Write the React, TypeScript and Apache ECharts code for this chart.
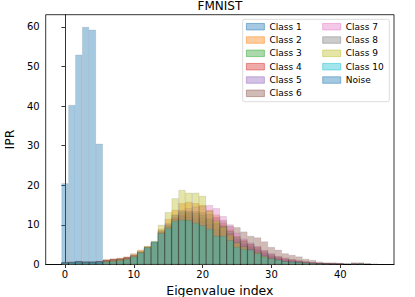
import React, { useEffect, useRef } from "react";
import * as echarts from "echarts";

// ---------- data (bins centred on integer eigenvalue indices 0..45) ----------
const seriesNames = ["Class 1", "Class 2", "Class 3", "Class 4", "Class 5", "Class 6", "Class 7", "Class 8", "Class 9", "Class 10", "Noise"];
const xTicks = [0, 10, 20, 30, 40];
const yTicks = [0, 10, 20, 30, 40, 50, 60];

const class1 = [0.4,0.5,0.7,0.6,0.6,0.7,0.8,1.0,1.2,1.5,2.1,3.1,4.3,5.7,8.3,9.8,11.8,12.3,12.1,11.6,11.0,10.2,8.8,8.4,7.0,5.4,4.6,4.2,3.3,2.4,1.8,1.4,1.0,0.8,0.7,0.5,0.4,0.3,0.2,0.2,0.1,0.1,0.1,0.2,0.1,0];
const class2 = [0.6,0.7,0.8,0.7,0.7,0.8,1.3,1.5,1.7,2.0,2.8,3.7,4.6,5.7,9.0,11.5,13.8,15.5,15.8,15.5,15.0,13.8,12.6,10.5,8.8,7.2,6.2,5.2,4.5,3.5,2.6,2.0,1.6,1.3,1.0,0.7,0.5,0.3,0.3,0.2,0.2,0.1,0.1,0.1,0.1,0];
const class3 = [0.3,0.4,0.5,0.4,0.4,0.5,0.6,0.7,0.8,1.1,1.8,2.8,4.1,5.5,7.6,8.7,10.6,10.8,10.8,10.1,9.5,8.6,6.8,6.9,5.8,4.1,3.7,3.5,2.6,1.8,1.3,1.1,0.7,0.6,0.5,0.4,0.3,0.2,0.1,0.1,0.1,0,0.1,0.1,0,0];
const class4 = [0.5,0.6,0.8,0.7,0.7,0.8,1.2,1.4,1.5,1.8,2.3,3.1,4.3,5.6,8.1,9.6,11.6,12.6,12.9,12.4,11.9,11.4,10.2,9.5,8.0,6.5,5.4,4.8,3.9,3.0,2.2,1.7,1.2,1.0,0.8,0.6,0.4,0.3,0.2,0.2,0.2,0.1,0.1,0.1,0.1,0];
const class5 = [0.4,0.5,0.6,0.5,0.5,0.6,0.8,0.9,1.1,1.4,2.1,3.0,4.2,5.6,8.0,9.5,11.4,12.0,12.0,11.5,11.0,10.2,9.0,8.6,7.3,5.8,5.0,4.4,3.6,2.7,2.0,1.5,1.1,0.9,0.7,0.5,0.4,0.3,0.2,0.2,0.1,0.1,0.2,0.1,0.1,0];
const class6 = [0.6,0.7,0.9,0.8,0.8,0.9,1.1,1.3,1.5,1.8,2.4,3.2,4.3,5.4,8.2,10.0,12.0,13.2,13.6,13.5,13.2,12.8,12.0,11.2,9.8,9.4,8.3,7.2,6.8,5.8,4.4,3.7,2.8,2.4,2.0,1.4,1.1,0.7,0.5,0.5,0.4,0.2,0.5,0.5,0.2,0.2];
const class7 = [0.5,0.6,0.8,0.7,0.7,0.8,1.0,1.2,1.4,1.7,2.5,3.3,4.4,5.6,8.5,10.5,12.5,13.8,14.2,14.6,14.8,15.0,14.2,12.2,10.1,8.0,6.5,5.5,4.6,3.6,2.8,2.1,1.7,1.3,1.0,0.8,0.6,0.4,0.3,0.3,0.2,0.1,0.2,0.1,0.1,0];
const class8 = [0.5,0.6,0.7,0.6,0.6,0.7,0.9,1.1,1.3,1.6,2.2,3.2,4.4,5.7,8.6,10.2,12.6,13.5,13.3,13.0,12.5,11.6,10.5,9.8,8.4,7.0,6.0,5.2,4.3,3.3,2.5,1.9,1.4,1.1,0.9,0.7,0.5,0.3,0.3,0.2,0.2,0.1,0.2,0.2,0.1,0];
const class9 = [0.5,0.6,0.7,0.6,0.6,0.7,0.9,1.1,1.3,1.6,2.4,3.5,4.7,5.9,10.0,13.2,16.7,18.8,18.1,18.1,17.3,13.5,11.0,9.5,7.5,5.5,4.5,3.8,3.0,2.2,1.6,1.2,0.8,0.6,0.5,0.4,0.3,0.2,0.1,0.1,0.1,0,0,0,0,0];
const class10 = [0.4,0.5,0.6,0.5,0.5,0.6,0.7,0.8,1.0,1.3,2.0,3.0,4.3,5.8,7.9,9.2,11.0,11.3,11.2,10.5,9.9,9.0,7.2,7.2,6.1,4.4,3.9,3.7,2.8,2.0,1.5,1.2,0.8,0.7,0.6,0.4,0.3,0.2,0.2,0.1,0.1,0.1,0.1,0.2,0.1,0];
const noise = [20.5,40.3,53.0,60.0,59.3,30.5];

const seriesValues = [class1, class2, class3, class4, class5, class6, class7, class8, class9, class10, noise];
const colors = ["#1f77b4", "#ff7f0e", "#2ca02c", "#d62728", "#9467bd", "#8c564b", "#e377c2", "#7f7f7f", "#bcbd22", "#17becf", "#1f77b4"];

const W = 415;
const H = 297;
const FONT = "DejaVu Sans";
const X_MIN = -2.8;
const X_MAX = 47.8;
const Y_MIN = 0;
const Y_MAX = 63.1;
const GRID = { left: 45.7, right: 21, top: 14.7, bottom: 32.5 };

function rgba(hex: string, a: number) {
  const n = parseInt(hex.slice(1), 16);
  return `rgba(${(n >> 16) & 255},${(n >> 8) & 255},${n & 255},${a})`;
}

export default function App() {
  const ref = useRef<HTMLDivElement>(null);
  useEffect(() => {
    if (!ref.current) return;
    const chart = echarts.init(ref.current, undefined, { renderer: "svg" });
    const plotW = W - GRID.left - GRID.right;
    const barW = plotW / (X_MAX - X_MIN);
    const legendText = { fontSize: 9, lineHeight: 12, fontFamily: FONT, color: "#000" };
    const legendCommon = {
      orient: "vertical" as const,
      top: 20.7,
      padding: 0,
      itemWidth: 18,
      itemHeight: 6.5,
      itemGap: 1.33,
      icon: "rect",
      textStyle: legendText,
      selectedMode: false,
      z: 10,
    };
    const legendItem = (name: string) => {
      const i = seriesNames.indexOf(name);
      return {
        name,
        itemStyle: { color: rgba(colors[i], 0.4), borderColor: rgba(colors[i], 0.6), borderWidth: 0.8 },
      };
    };
    chart.setOption({
      animation: false,
      title: {
        text: "FMNIST",
        left: GRID.left + plotW / 2,
        textAlign: "center",
        top: 0,
        padding: 0,
        textStyle: { fontSize: 12, fontWeight: "normal", fontFamily: FONT, color: "#000" },
      },
      grid: { ...GRID, outerBoundsMode: "none", containLabel: false, show: true, borderColor: "#000", borderWidth: 0.8, backgroundColor: "transparent" },
      legend: [
        { ...legendCommon, left: 246, data: seriesNames.slice(0, 6).map(legendItem) },
        { ...legendCommon, left: 322.3, data: seriesNames.slice(6).map(legendItem) },
      ],
      graphic: [
        {
          type: "rect",
          z: 5,
          shape: { x: 242.7, y: 19.3, width: 146.6, height: 82.4, r: 2 },
          style: { fill: "rgba(255,255,255,0.8)", stroke: "#dcdcdc", lineWidth: 1 },
        },
      ],
      xAxis: {
        type: "value",
        min: X_MIN,
        max: X_MAX,
        name: "Eigenvalue index",
        nameLocation: "middle",
        nameGap: 16,
        nameTextStyle: { fontSize: 12.5, fontFamily: FONT, color: "#000", verticalAlign: "top" },
        axisLine: { show: true, onZero: false, lineStyle: { color: "#000", width: 0.8 } },
        axisTick: { show: true, length: 3.5, customValues: xTicks, lineStyle: { color: "#000", width: 0.8 } },
        axisLabel: { customValues: xTicks, margin: 5, fontSize: 10, fontFamily: FONT, color: "#000" },
        splitLine: { show: false },
      },
      yAxis: {
        type: "value",
        min: Y_MIN,
        max: Y_MAX,
        name: "IPR",
        nameLocation: "middle",
        nameGap: 24,
        nameTextStyle: { fontSize: 12.5, fontFamily: FONT, color: "#000" },
        axisLine: { show: true, lineStyle: { color: "#000", width: 0.8 } },
        axisTick: { show: true, length: 3.5, customValues: yTicks, lineStyle: { color: "#000", width: 0.8 } },
        axisLabel: { customValues: yTicks, margin: 6, fontSize: 10, fontFamily: FONT, color: "#000" },
        splitLine: { show: false },
      },
      series: seriesValues.map((vals, i) => ({
        type: "bar",
        name: seriesNames[i],
        data: vals.map((v, k) => [k, v]).filter((d) => d[1] > 0),
        barWidth: barW,
        barGap: "-100%",
        silent: true,
        itemStyle: { color: rgba(colors[i], 0.4), borderColor: "rgba(0,0,0,0.2)", borderWidth: 0.45 },
      })),
    });
    return () => chart.dispose();
  }, []);
  return (
    <div
      ref={ref}
      style={{ position: "fixed", left: 0, top: 0, width: W, height: H, background: "#fff" }}
    />
  );
}
